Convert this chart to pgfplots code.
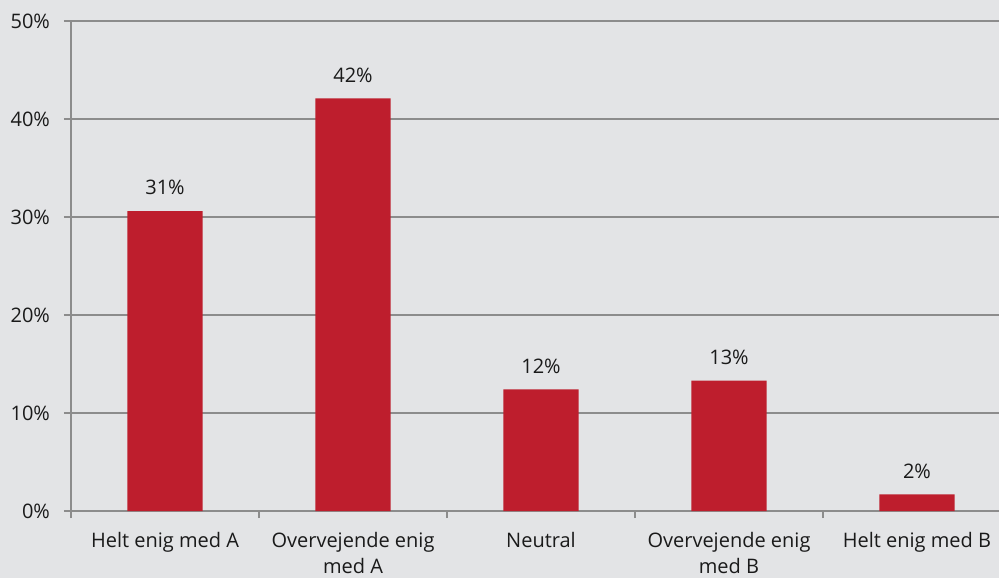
\documentclass[border=0pt]{standalone}
\usepackage{pgfplots}
\pgfplotsset{compat=1.18}
\usepackage{fontspec}
\setmainfont{Open Sans}
\definecolor{bg}{HTML}{E3E4E6}
\definecolor{barred}{HTML}{BE1E2D}
\definecolor{gridc}{HTML}{8C8C8C}
\definecolor{txt}{HTML}{1A1A1A}
\begin{document}
\begin{tikzpicture}[x=1pt,y=1pt]
\fill[bg] (0,0) rectangle (749.25,433.5);
\begin{axis}[
  at={(53.25pt,50.25pt)}, anchor=south west,
  scale only axis, width=705pt, height=367.5pt,
  xmin=-0.5, xmax=4.5, ymin=0, ymax=50,
  axis x line=bottom, axis y line=left,
  axis line style={-, gridc, line width=1.5pt},
  clip=false,
  /pgf/number format/assume math mode=true,
  ytick={0,10,20,30,40,50},
  yticklabels={0\%,10\%,20\%,30\%,40\%,50\%},
  xtick={0,1,2,3,4},
  xticklabels={Helt enig med A,Overvejende enig\\med A,Neutral,Overvejende enig\\med B,Helt enig med B},
  minor xtick={-0.5,0.5,1.5,2.5,3.5,4.5},
  tick align=outside,
  major tick length=5.25pt, minor tick length=5.25pt,
  major x tick style={draw=none},
  every tick/.style={gridc, line width=1.5pt},
  minor tick style={gridc, line width=1.5pt},
  major y tick style={gridc, line width=1.5pt},
  xticklabel style={align=center, anchor=north, yshift=-7.5pt, font=\fontsize{15}{19.5}\selectfont, text=txt},
  yticklabel style={anchor=east, xshift=-7pt, font=\fontsize{15}{18}\selectfont, text=txt},
  ymajorgrids, xmajorgrids=false, major grid style={gridc, line width=1.5pt},
  bar width=0.4,
  nodes near coords={\pgfmathprintnumber[fixed,precision=0]{\pgfplotspointmeta}\%},
  every node near coord/.append style={font=\fontsize{15}{18}\selectfont, text=txt, yshift=8.5pt},
]
\addplot[ybar, fill=barred, draw=none] coordinates {(0,30.6) (1,42.1) (2,12.4) (3,13.3) (4,1.7)};
\end{axis}
\pgfresetboundingbox
\useasboundingbox (0,0) rectangle (749.25,433.5);
\end{tikzpicture}
\end{document}
